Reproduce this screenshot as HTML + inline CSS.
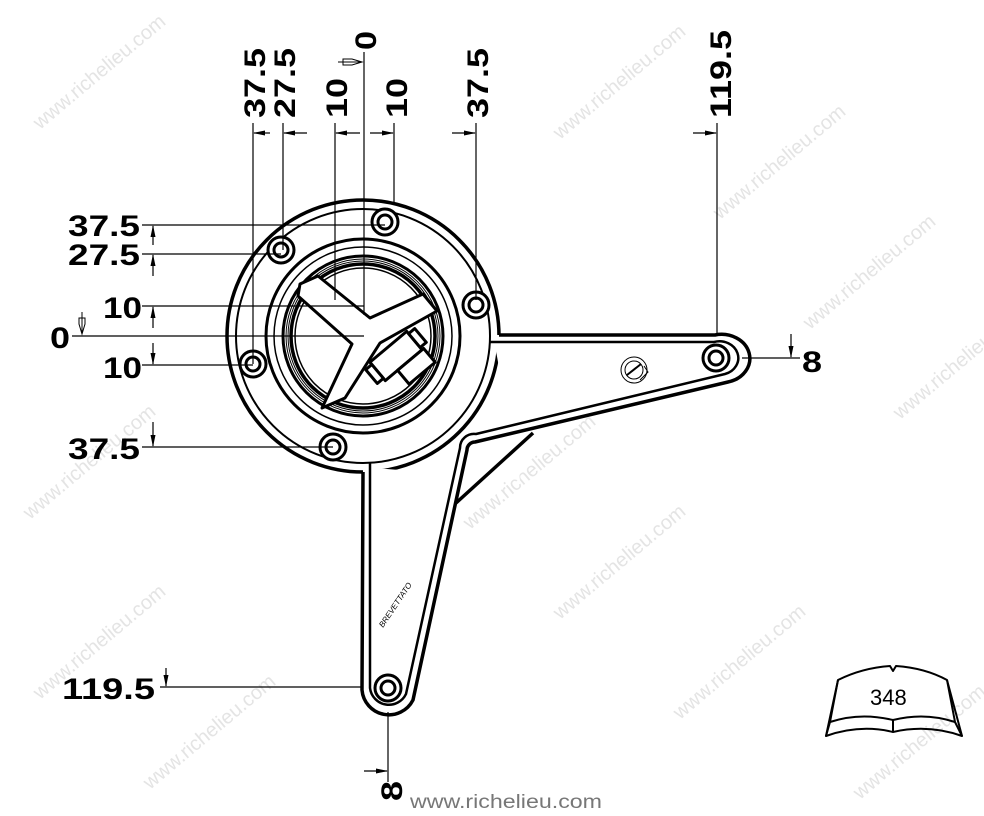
<!DOCTYPE html>
<html><head><meta charset="utf-8"><style>
html,body{margin:0;padding:0;background:#fff;}
svg{display:block;}
.d{font-family:"Liberation Sans",Arial,sans-serif;font-weight:bold;font-size:30px;fill:#000;}
.w{font-family:"Liberation Sans",Arial,sans-serif;font-size:20px;fill:#e4e4e4;}
</style></head><body>
<svg width="984" height="816" viewBox="0 0 984 816" xmlns="http://www.w3.org/2000/svg">
<defs>
<marker id="a" markerWidth="12" markerHeight="8" refX="11" refY="4" orient="auto" markerUnits="userSpaceOnUse"><path d="M0,1.5 L12,4 L0,6.5 Z" fill="#000"/></marker>
</defs>
<g class="w">
<text transform="translate(40,130) rotate(-40)">www.richelieu.com</text>
<text transform="translate(560,140) rotate(-40)">www.richelieu.com</text>
<text transform="translate(720,220) rotate(-40)">www.richelieu.com</text>
<text transform="translate(810,330) rotate(-40)">www.richelieu.com</text>
<text transform="translate(900,420) rotate(-40)">www.richelieu.com</text>
<text transform="translate(470,530) rotate(-40)">www.richelieu.com</text>
<text transform="translate(560,620) rotate(-40)">www.richelieu.com</text>
<text transform="translate(680,720) rotate(-40)">www.richelieu.com</text>
<text transform="translate(30,520) rotate(-40)">www.richelieu.com</text>
<text transform="translate(40,700) rotate(-40)">www.richelieu.com</text>
<text transform="translate(150,790) rotate(-40)">www.richelieu.com</text>
<text transform="translate(860,800) rotate(-40)">www.richelieu.com</text>
</g>

<!-- flange -->
<circle cx="363" cy="336" r="136" fill="#fff" stroke="#000" stroke-width="3.5"/>
<circle cx="363" cy="336" r="127" fill="none" stroke="#000" stroke-width="2"/>

<!-- arms fill -->
<path d="M493,335 L715,335 A27,23 0 0 1 728,382 L475,442 A8,8 0 0 0 467,450 L413,700 A27,27 0 0 1 362,690 L363,467 L520,480 Z" fill="#fff"/>
<path d="M499,335 L715,335 A27,23 0 0 1 728,382 L475,442 A8,8 0 0 0 467,450 L413,700 A27,27 0 0 1 362,690 L363,472" fill="none" stroke="#000" stroke-width="3.5" stroke-linejoin="round"/>
<path d="M490,342 L714,342 A18,16 0 0 1 725,374 L476,434 A14,14 0 0 0 460,448 L406,694 A19,19 0 0 1 370,688 L370,463" fill="none" stroke="#000" stroke-width="2.5" stroke-linejoin="round"/>
<!-- gusset -->
<path d="M456,503 L533,433" stroke="#000" stroke-width="3.5"/>
<!-- end holes -->
<circle cx="716" cy="358" r="13" fill="#fff" stroke="#000" stroke-width="3"/>
<circle cx="716" cy="358" r="7" fill="#fff" stroke="#000" stroke-width="3"/>
<circle cx="388" cy="688" r="13" fill="#fff" stroke="#000" stroke-width="3"/>
<circle cx="388" cy="688" r="7" fill="#fff" stroke="#000" stroke-width="3"/>
<!-- logo -->
<circle cx="634" cy="370" r="13" fill="none" stroke="#000" stroke-width="1"/>
<circle cx="634" cy="370" r="9" fill="none" stroke="#000" stroke-width="1"/>
<path d="M640,380 L648,372 L644,366" fill="none" stroke="#000" stroke-width="1"/>
<path d="M627,375 L641,364" stroke="#000" stroke-width="2"/>
<text x="0" y="0" transform="translate(383,628) rotate(-56)" font-family="Liberation Sans,sans-serif" font-size="8" font-style="italic" fill="#000">BREVETTATO</text>

<!-- inner rings -->
<circle cx="363" cy="336" r="97" fill="none" stroke="#000" stroke-width="3"/>
<circle cx="363" cy="336" r="89" fill="none" stroke="#000" stroke-width="1.5"/>
<circle cx="363" cy="336" r="80" fill="none" stroke="#000" stroke-width="3"/>
<circle cx="363" cy="336" r="77" fill="none" stroke="#000" stroke-width="1"/>
<circle cx="363" cy="336" r="75" fill="none" stroke="#000" stroke-width="1"/>
<circle cx="363" cy="336" r="72" fill="none" stroke="#000" stroke-width="3.5"/>
<circle cx="363" cy="336" r="68" fill="#fff" stroke="#000" stroke-width="1.5"/>
<!-- spider -->
<g fill="#fff" stroke="#000" stroke-width="3" stroke-linejoin="round">
<path d="M300,284 L318,276 L370,318 L423,294 L437,311 L380,343 L345,398 L322,408 L352,344 L298,296 Z"/>
<g transform="translate(396,356) rotate(-40)">
<rect x="-24" y="-12" width="48" height="24"/>
<rect x="-32" y="-9" width="8" height="18"/>
<rect x="24" y="-9" width="8" height="18"/>
<rect x="-8" y="12" width="34" height="18"/>
</g>
</g>

<!-- bolt holes -->
<g fill="#fff" stroke="#000" stroke-width="3">
<circle cx="385" cy="222" r="13"/><circle cx="385" cy="222" r="7"/>
<circle cx="281" cy="250" r="13"/><circle cx="281" cy="250" r="7"/>
<circle cx="476" cy="305" r="13"/><circle cx="476" cy="305" r="7"/>
<circle cx="253" cy="364" r="13"/><circle cx="253" cy="364" r="7"/>
<circle cx="333" cy="447" r="13"/><circle cx="333" cy="447" r="7"/>
</g>

<g stroke="#000" stroke-width="1.2" fill="none">
<line x1="253" y1="123" x2="253" y2="364"/>
<line x1="283" y1="123" x2="283" y2="250"/>
<line x1="335" y1="123" x2="335" y2="300"/>
<line x1="364" y1="52" x2="364" y2="315"/>
<line x1="394" y1="123" x2="394" y2="205"/>
<line x1="476" y1="123" x2="476" y2="300"/>
<line x1="717" y1="123" x2="717" y2="335"/>
<line x1="270" y1="133" x2="254" y2="133" marker-end="url(#a)"/>
<line x1="307" y1="133" x2="284" y2="133" marker-end="url(#a)"/>
<line x1="360" y1="133" x2="336" y2="133" marker-end="url(#a)"/>
<line x1="370" y1="133" x2="393" y2="133" marker-end="url(#a)"/>
<line x1="452" y1="133" x2="475" y2="133" marker-end="url(#a)"/>
<line x1="693" y1="133" x2="716" y2="133" marker-end="url(#a)"/>
<line x1="142" y1="225" x2="385" y2="225"/>
<line x1="142" y1="254" x2="281" y2="254"/>
<line x1="142" y1="306" x2="364" y2="306"/>
<line x1="72" y1="336" x2="364" y2="336"/>
<line x1="142" y1="365" x2="253" y2="365"/>
<line x1="142" y1="447" x2="333" y2="447"/>
<line x1="160" y1="687" x2="362" y2="687"/>
<line x1="742" y1="358" x2="800" y2="358"/>
<line x1="388" y1="712" x2="388" y2="782"/>
<line x1="153" y1="245" x2="153" y2="226" marker-end="url(#a)"/>
<line x1="153" y1="276" x2="153" y2="255" marker-end="url(#a)"/>
<line x1="153" y1="328" x2="153" y2="307" marker-end="url(#a)"/>
<line x1="153" y1="343" x2="153" y2="364" marker-end="url(#a)"/>
<line x1="153" y1="422" x2="153" y2="446" marker-end="url(#a)"/>
<line x1="166" y1="668" x2="166" y2="686" marker-end="url(#a)"/>
<line x1="791" y1="334" x2="791" y2="357" marker-end="url(#a)"/>
<line x1="364" y1="771" x2="387" y2="771" marker-end="url(#a)"/>
</g>
<path d="M338,62 L362,62 M362,62 L352,59 L343,59 L343,65 L352,65 Z" fill="#fff" stroke="#000" stroke-width="1"/>
<path d="M82,312 L82,334 M82,334 L79,324 L79,318 L85,318 L85,324 Z" fill="#fff" stroke="#000" stroke-width="1"/>

<g class="d">
<text transform="translate(265,118) rotate(-90)" textLength="70" lengthAdjust="spacingAndGlyphs">37.5</text>
<text transform="translate(295,118) rotate(-90)" textLength="70" lengthAdjust="spacingAndGlyphs">27.5</text>
<text transform="translate(347,118) rotate(-90)" textLength="40" lengthAdjust="spacingAndGlyphs">10</text>
<text transform="translate(407,118) rotate(-90)" textLength="40" lengthAdjust="spacingAndGlyphs">10</text>
<text transform="translate(488,118) rotate(-90)" textLength="70" lengthAdjust="spacingAndGlyphs">37.5</text>
<text transform="translate(376,50) rotate(-90)" textLength="19" lengthAdjust="spacingAndGlyphs">0</text>
<text transform="translate(731,118) rotate(-90)" textLength="88" lengthAdjust="spacingAndGlyphs">119.5</text>
<text transform="translate(402,801) rotate(-90)" textLength="20" lengthAdjust="spacingAndGlyphs">8</text>
<text x="68" y="236" textLength="72" lengthAdjust="spacingAndGlyphs">37.5</text>
<text x="68" y="265" textLength="72" lengthAdjust="spacingAndGlyphs">27.5</text>
<text x="103" y="318" textLength="39" lengthAdjust="spacingAndGlyphs">10</text>
<text x="50" y="348" textLength="20" lengthAdjust="spacingAndGlyphs">0</text>
<text x="103" y="378" textLength="39" lengthAdjust="spacingAndGlyphs">10</text>
<text x="68" y="459" textLength="72" lengthAdjust="spacingAndGlyphs">37.5</text>
<text x="62" y="699" textLength="93" lengthAdjust="spacingAndGlyphs">119.5</text>
<text x="802" y="372" textLength="20" lengthAdjust="spacingAndGlyphs">8</text>
</g>

<g fill="none" stroke="#000" stroke-width="2" stroke-linejoin="round">
<path d="M838,680 Q862,668 890,666 L893,671 L896,666 Q925,668 947,680 L955,722 Q925,712 893,720 Q860,712 830,722 Z"/>
<path d="M838,680 L826,736 Q860,724 893,732 Q928,724 962,736 L947,680"/>
<path d="M830,722 L826,736 M955,722 L962,736 M893,720 L893,732"/>
</g>
<text x="870" y="705" font-family="Liberation Sans,sans-serif" font-size="22" fill="#000">348</text>

<text x="410" y="808" font-family="Liberation Sans,sans-serif" font-size="19" fill="#777" textLength="192" lengthAdjust="spacingAndGlyphs">www.richelieu.com</text>
</svg>
</body></html>
